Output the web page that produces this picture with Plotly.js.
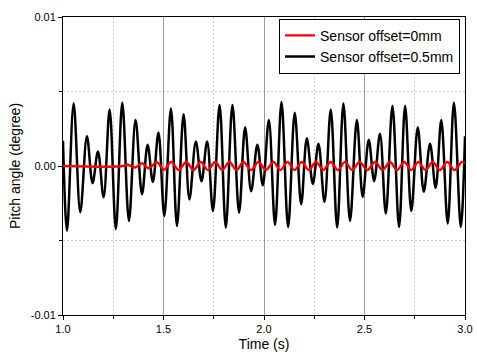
<!DOCTYPE html>
<html>
<head>
<meta charset="utf-8">
<script src="https://cdn.plot.ly/plotly-3.0.1.min.js"></script>
<style>html,body{margin:0;padding:0;background:#fff;}#chart{width:477px;height:352px;}</style>
</head>
<body>
<div id="chart"></div>
<script>
// Sensor offset = 0.5 mm : times and values of the extrema
const blackTime = [1.000,1.020,1.053,1.086,1.119,1.147,1.174,1.202,1.232,1.263,1.295,1.328,1.361,1.393,1.421,1.447,1.475,1.504,1.537,1.567,1.600,1.629,1.661,1.689,1.717,1.746,1.779,1.810,1.843,1.876,1.906,1.936,1.967,1.994,2.024,2.055,2.087,2.120,2.153,2.185,2.213,2.243,2.271,2.301,2.332,2.364,2.395,2.428,2.462,2.491,2.521,2.548,2.577,2.606,2.639,2.672,2.702,2.733,2.765,2.795,2.826,2.854,2.882,2.914,2.945,2.979,3.000];
const blackPitch = [0.0017,-0.00435,0.0042,-0.0031,0.0020,-0.00115,0.00098,-0.0021,0.0038,-0.00424,0.00424,-0.00368,0.00308,-0.0019,0.00142,-0.00107,0.00225,-0.00335,0.00386,-0.00402,0.00348,-0.00224,0.00164,-0.00102,0.00164,-0.00302,0.00409,-0.00413,0.00409,-0.00313,0.0026,-0.00169,0.00142,-0.00129,0.00308,-0.00395,0.0043,-0.00409,0.00357,-0.00257,0.00187,-0.0012,0.00149,-0.0024,0.0038,-0.00413,0.0042,-0.00368,0.00308,-0.00208,0.00176,-0.00102,0.00216,-0.00319,0.00402,-0.00409,0.00402,-0.00302,0.0026,-0.00173,0.00149,-0.00147,0.00308,-0.00386,0.00424,-0.00409,0.0020];

// Sensor offset = 0 mm
const redTime = [1.000,1.300,1.318,1.359,1.393,1.426,1.467,1.502,1.538,1.575,1.613,1.650,1.686,1.721,1.757,1.792,1.828,1.863,1.898,1.935,1.972,2.010,2.047,2.082,2.117,2.152,2.188,2.223,2.259,2.295,2.332,2.367,2.403,2.439,2.475,2.514,2.553,2.590,2.627,2.662,2.698,2.733,2.768,2.803,2.839,2.875,2.912,2.948,2.984,3.000];
const redPitch = [0,0,0.0001,-0.0001,0.00018,-0.00015,0.00025,-0.00025,0.00027,-0.00027,0.00027,-0.00027,0.00027,-0.00027,0.00027,-0.00027,0.00027,-0.00027,0.00027,-0.00027,0.00027,-0.00027,0.00027,-0.00027,0.00027,-0.00027,0.00027,-0.00027,0.00027,-0.00027,0.00027,-0.00027,0.00027,-0.00027,0.00027,-0.00027,0.00027,-0.00027,0.00027,-0.00027,0.00027,-0.00027,0.00027,-0.00027,0.00027,-0.00027,0.00027,-0.00027,0.00027,0.0002];

const seriesNames = ['Sensor offset=0mm','Sensor offset=0.5mm'];
const yTickVals = [-0.01, 0, 0.01];
const yTickText = ['-0.01','0.00','0.01'];
const xTickVals = [1.0,1.5,2.0,2.5,3.0];
const xTickText = ['1.0','1.5','2.0','2.5','3.0'];

const font = 'Liberation Sans, Arial, sans-serif';

const traces = [
  {x: blackTime, y: blackPitch, name: seriesNames[1], mode: 'lines',
   line: {color: '#000000', width: 2.5, shape: 'spline', smoothing: 1}},
  {x: redTime, y: redPitch, name: seriesNames[0], mode: 'lines',
   line: {color: '#ff0000', width: 2.4, shape: 'spline', smoothing: 1}}
];

const layout = {
  width: 477, height: 352,
  margin: {l: 63, r: 12, t: 17, b: 37},
  paper_bgcolor: '#ffffff', plot_bgcolor: '#ffffff',
  font: {family: font, size: 11, color: '#000'},
  showlegend: true,
  legend: {x: 0.9876, xanchor: 'right', y: 0.994, yanchor: 'top',
    bgcolor: '#ffffff', bordercolor: '#000000', borderwidth: 1,
    traceorder: 'reversed', font: {family: font, size: 14, color: '#000'},
    tracegroupgap: 0, itemwidth: 30},
  xaxis: {
    range: [1.0, 3.0], tickmode: 'array', tickvals: xTickVals, ticktext: xTickText,
    showline: true, linecolor: '#000', linewidth: 1, mirror: true,
    ticks: 'outside', ticklen: 4, tickcolor: '#000',
    showgrid: true, gridcolor: '#9a9a9a', gridwidth: 1,
    zeroline: false,
    minor: {dtick: 0.25, tick0: 1.0, showgrid: true, gridcolor: '#cccccc', griddash: '2px,2px', gridwidth: 1, ticks: 'outside', ticklen: 3, tickcolor: '#000'},
    title: {text: 'Time (s)', font: {family: font, size: 14, color: '#000'}, standoff: 4},
    tickfont: {family: font, size: 11, color: '#000'}
  },
  yaxis: {
    range: [-0.01, 0.01], tickmode: 'array', tickvals: yTickVals, ticktext: yTickText,
    showline: true, linecolor: '#000', linewidth: 1, mirror: true,
    ticks: 'outside', ticklen: 4, tickcolor: '#000',
    showgrid: false, zeroline: false,
    minor: {dtick: 0.005, tick0: 0, showgrid: true, gridcolor: '#cccccc', griddash: '2px,2px', gridwidth: 1, ticks: 'outside', ticklen: 3, tickcolor: '#000'},
    title: {text: 'Pitch angle (degree)', font: {family: font, size: 14, color: '#000'}, standoff: 6},
    tickfont: {family: font, size: 11, color: '#000'}
  }
};

Plotly.newPlot('chart', traces, layout, {staticPlot: true, displayModeBar: false});
</script>
</body>
</html>
